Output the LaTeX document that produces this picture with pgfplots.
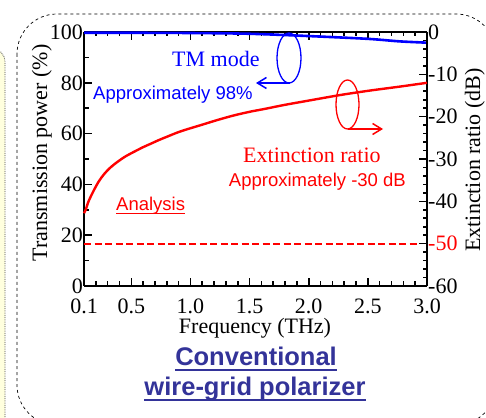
\documentclass[border=0pt]{standalone}
\usepackage{pgfplots}
\pgfplotsset{compat=1.18}
\usepackage{fontspec}
\setmainfont{Liberation Serif}
\setsansfont{Liberation Sans}
\usetikzlibrary{arrows.meta}
\definecolor{ttl}{RGB}{51,51,153}
\definecolor{bgy}{RGB}{255,255,222}
\newsavebox\ulbox
\newcommand{\ulx}[3]{\sbox\ulbox{#1}\rlap{\rule[#2]{\wd\ulbox}{#3}}\usebox\ulbox}
\newcommand{\tfont}{\fontsize{22}{22}\selectfont}
\newcommand{\sfont}{\sffamily\fontsize{18.5}{18.5}\selectfont}
\newcommand{\bfont}{\sffamily\bfseries\fontsize{25.5}{25.5}\selectfont}

\pgfplotstableread{
x y
0.10 99.7
0.50 99.7
1.00 99.6
1.50 99.3
2.00 98.4
2.50 97.3
2.77 96.3
3.00 95.8
}\tmdata

\pgfplotstableread{
x y
0.100 -42.8
0.114 -42.0
0.140 -39.9
0.185 -37.3
0.225 -35.3
0.269 -33.6
0.320 -32.1
0.382 -30.7
0.450 -29.4
0.523 -28.3
0.600 -27.2
0.664 -26.4
0.735 -25.5
0.805 -24.7
0.875 -23.9
0.946 -23.2
1.087 -22.0
1.227 -20.8
1.368 -19.7
1.509 -18.8
1.622 -18.2
1.800 -17.2
2.000 -16.2
2.264 -14.9
2.500 -13.9
2.770 -12.9
3.000 -12.0
}\erdata

\begin{document}
\begin{tikzpicture}
\begin{scope}[x=1pt,y=1pt]
\fill[bgy, draw=black!70, densely dotted, line width=0.8pt, rounded corners=14pt] (-40,-20) rectangle (5,369);
\draw[dashed, line width=0.7pt, rounded corners=40pt] (17,403) rectangle (496,-8);
\end{scope}

\begin{axis}[
  at={(84pt,131pt)}, anchor=south west,
  scale only axis, width=343pt, height=254pt,
  xmin=0.1, xmax=3.0, ymin=0, ymax=100,
  axis y line*=left,
  tick align=inside,
  xtick={0.1,0.5,1.0,1.5,2.0,2.5,3.0},
  xticklabels={0.1,0.5,1.0,1.5,2.0,2.5,3.0},
  minor xtick={0.2,0.3,0.4,0.6,0.7,0.8,0.9,1.1,1.2,1.3,1.4,1.6,1.7,1.8,1.9,2.1,2.2,2.3,2.4,2.6,2.7,2.8,2.9},
  ytick={0,20,40,60,80,100},
  yticklabels={0,20,40,60,80,100},
  minor ytick={10,30,50,70,90},
  ytick pos=left,
  xtick pos=both,
  major tick length=8pt, minor tick length=4.5pt,
  every tick/.style={black, line width=1.6pt},
  axis line style={line width=2.2pt},
  tick label style={font=\tfont},
  xticklabel style={inner sep=0pt, yshift=-13pt},
  yticklabel style={inner sep=0pt, xshift=-1pt},
  clip=false,
]
\addplot[blue, line width=2.6pt, smooth] table[x=x,y=y] {\tmdata};
\end{axis}

\begin{axis}[
  at={(84pt,131pt)}, anchor=south west,
  scale only axis, width=343pt, height=254pt,
  xmin=0.1, xmax=3.0, ymin=-60, ymax=0,
  axis y line*=right, axis x line=none,
  tick align=inside,
  ytick={-60,-50,-40,-30,-20,-10,0},
  yticklabels={-60,\textcolor{red}{-50},-40,-30,-20,-10,0},
  minor ytick={-58,-56,-54,-52,-48,-46,-44,-42,-38,-36,-34,-32,-28,-26,-24,-22,-18,-16,-14,-12,-8,-6,-4,-2},
  ytick pos=right,
  major tick length=8pt, minor tick length=4.5pt,
  every tick/.style={black, line width=1.6pt},
  axis line style={line width=2.2pt},
  tick label style={font=\tfont},
  yticklabel style={inner sep=0pt, xshift=1pt},
  clip=false,
]
\addplot[red, line width=2.4pt, smooth] table[x=x,y=y] {\erdata};
\addplot[red, line width=1.8pt, dash pattern=on 7pt off 3.5pt] coordinates {(0.1,-50) (2.92,-50)};
\end{axis}

\begin{scope}[x=1pt,y=1pt]
% axis labels
\node[anchor=base, font=\tfont, inner sep=0pt] at (255,84) {Frequency (THz)};
\node[anchor=base, rotate=90, font=\tfont, inner sep=0pt] at (47,264) {Transmission power (\%)};
\node[anchor=base, rotate=90, font=\tfont, inner sep=0pt] at (480,257) {Extinction ratio (dB)};
% annotations
\node[anchor=base west, font=\tfont, text=blue, inner sep=0pt] at (172,350) {TM mode};
\node[anchor=base west, font=\sfont, text=blue, inner sep=0pt] at (93,317) {Approximately 98\%};
\node[anchor=base west, font=\tfont, text=red, inner sep=0pt] at (243,254) {Extinction ratio};
\node[anchor=base east, font=\sfont, text=red, inner sep=0pt] at (406,230) {Approximately -30 dB};
\node[anchor=base west, font=\sfont, text=red, inner sep=0pt] at (116,206) {\ulx{Analysis}{-3pt}{1.3pt}};
% ellipses and arrows
\draw[blue, line width=1.3pt] (289,359) ellipse [x radius=12, y radius=25];
\draw[blue, line width=1.5pt, -{Straight Barb[length=9pt,width=11pt]}] (290,334) -- (256,334);
\draw[red, line width=1.3pt] (347.5,312.5) ellipse [x radius=11.5, y radius=24.5];
\draw[red, line width=1.5pt, -{Straight Barb[length=9pt,width=11pt]}] (348,288) -- (383,288);
% title
\node[anchor=base, font=\bfont, text=ttl, inner sep=0pt] at (256,52) {\ulx{Conventional}{-5.5pt}{2pt}};
\node[anchor=base, font=\bfont, text=ttl, inner sep=0pt] at (255,22) {\ulx{wire-grid polarizer}{-5.5pt}{2pt}};
\end{scope}
\pgfresetboundingbox
\path[use as bounding box] (0,0) rectangle (486pt,417pt);
\end{tikzpicture}
\end{document}
